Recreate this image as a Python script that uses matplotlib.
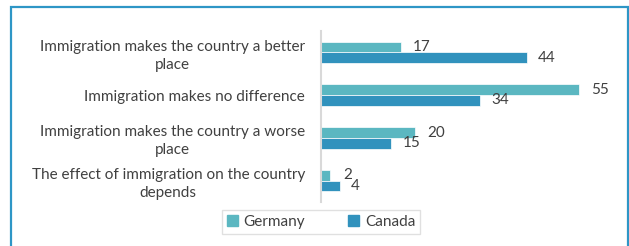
import matplotlib
matplotlib.use("Agg")
import matplotlib.pyplot as plt
from matplotlib.patches import Rectangle, Patch

categories = [
    "Immigration makes the country a better\nplace",
    "Immigration makes no difference",
    "Immigration makes the country a worse\nplace",
    "The effect of immigration on the country\ndepends",
]
germany = [17, 55, 20, 2]
canada = [44, 34, 15, 4]

c_ger = "#5BB7C1"
c_can = "#3192BD"
txt = "#404040"

plt.rcParams["font.family"] = ["Lato", "DejaVu Sans"]

fig = plt.figure(figsize=(6.29, 2.46), dpi=100)
W, H = 629, 246

# outer blue frame
fig.patches.append(Rectangle((11 / W, -0.05), 617 / W, 1.05 - 7 / H,
                             transform=fig.transFigure, fill=False,
                             edgecolor="#2E96C6", lw=1.6))

ax = fig.add_axes([321 / W, 44 / H, 290 / W, 171 / H])
y = range(len(categories))
bh = 0.25
ax.barh([i - bh / 2 for i in y], germany, height=bh, color=c_ger,
        edgecolor="white", linewidth=0.5)
ax.barh([i + bh / 2 for i in y], canada, height=bh, color=c_can,
        edgecolor="white", linewidth=0.5)

for i in y:
    ax.annotate(str(germany[i]), (germany[i], i - bh / 2), xytext=(9, 0),
                textcoords="offset points", va="center", ha="left",
                fontsize=11, color=txt)
    ax.annotate(str(canada[i]), (canada[i], i + bh / 2), xytext=(8, 0),
                textcoords="offset points", va="center", ha="left",
                fontsize=11, color=txt)

ax.set_xlim(0, 290 / 4.685)
ax.set_ylim(3.5, -0.5)
ax.set_yticks(list(y))
ax.set_yticklabels(categories, fontsize=11, color=txt, linespacing=1.35)
for lab in ax.get_yticklabels():
    lab.set_multialignment("center")
ax.tick_params(axis="y", length=0, pad=11.5)
ax.set_xticks([])
for s in ["top", "right", "bottom"]:
    ax.spines[s].set_visible(False)
ax.spines["left"].set_color("#D9D9D9")
ax.spines["left"].set_linewidth(1.5)

handles = [Patch(color=c_ger, label="Germany"), Patch(color=c_can, label="Canada")]
fig.legend(handles=handles, loc="center", bbox_to_anchor=(321 / W, 24 / H),
           ncol=2, frameon=True, fancybox=False, edgecolor="#D9D9D9",
           fontsize=11, handlelength=0.7, handleheight=0.7,
           handletextpad=0.4, columnspacing=2.8, borderpad=0.3,
           borderaxespad=0, labelcolor=txt)

fig.savefig("out.png", dpi=100)
